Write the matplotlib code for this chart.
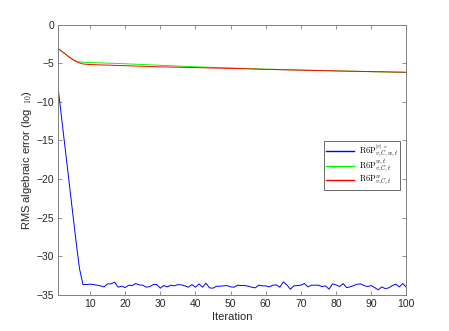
import numpy as np
import matplotlib
matplotlib.use('Agg')
import matplotlib.pyplot as plt

plt.rcParams['font.family'] = ['Liberation Sans', 'DejaVu Sans']
plt.rcParams['mathtext.fontset'] = 'cm'

iters = np.arange(1, 101)

# R6P^{|v|x}_{v,C,w,t}
blue_err = [-8.5, -12.4, -16.3, -20.2, -24.1, -28.0, -31.6, -33.70, -33.70, -33.65,
            -33.70, -33.78, -33.87, -34.00, -33.61, -33.61, -33.39, -34.04, -33.91, -34.09,
            -33.78, -33.83, -33.57, -33.74, -33.78, -34.04, -33.96, -33.70, -33.70, -34.17,
            -33.83, -34.00, -33.78, -33.87, -33.70, -33.74, -33.87, -34.04, -33.70, -34.04,
            -33.61, -34.04, -33.52, -34.13, -34.17, -33.91, -33.91, -33.87, -33.83, -34.00,
            -34.04, -33.78, -33.83, -33.83, -33.91, -34.04, -34.13, -33.78, -33.87, -33.87,
            -34.00, -33.78, -33.74, -34.04, -33.35, -33.74, -34.30, -33.87, -33.83, -33.78,
            -33.57, -34.00, -33.78, -33.78, -33.78, -33.96, -33.87, -34.30, -33.61, -33.74,
            -33.96, -33.57, -34.09, -34.00, -33.83, -33.65, -33.61, -33.83, -33.96, -33.83,
            -34.09, -34.39, -34.00, -34.22, -34.13, -33.83, -33.65, -34.00, -33.57, -34.04]

# R6P^{w,t}_{v,C,t}
green_err = [-3.10, -3.45, -3.80, -4.15, -4.45, -4.68, -4.80, -4.85, -4.88, -4.90,
             -4.91, -4.93, -4.94, -4.96, -4.97, -4.99, -5.00, -5.02, -5.03, -5.05,
             -5.07, -5.09, -5.11, -5.13, -5.15, -5.17, -5.19, -5.21, -5.23, -5.25,
             -5.27, -5.29, -5.31, -5.33, -5.35, -5.37, -5.39, -5.41, -5.43, -5.45,
             -5.46, -5.48, -5.49, -5.51, -5.52, -5.54, -5.55, -5.57, -5.58, -5.60,
             -5.61, -5.63, -5.64, -5.66, -5.67, -5.69, -5.70, -5.72, -5.73, -5.75,
             -5.76, -5.77, -5.78, -5.80, -5.81, -5.82, -5.83, -5.84, -5.86, -5.87,
             -5.88, -5.89, -5.90, -5.91, -5.92, -5.94, -5.95, -5.96, -5.97, -5.98,
             -5.99, -6.00, -6.01, -6.02, -6.03, -6.04, -6.05, -6.06, -6.07, -6.08,
             -6.09, -6.10, -6.11, -6.12, -6.13, -6.14, -6.15, -6.16, -6.17, -6.18]

# R6P^{w}_{v,C,t}
red_err = [-3.10, -3.45, -3.80, -4.15, -4.50, -4.75, -4.95, -5.08, -5.12, -5.15,
           -5.17, -5.18, -5.20, -5.21, -5.23, -5.24, -5.26, -5.27, -5.29, -5.30,
           -5.32, -5.33, -5.35, -5.36, -5.38, -5.39, -5.41, -5.42, -5.44, -5.45,
           -5.46, -5.47, -5.48, -5.49, -5.50, -5.51, -5.52, -5.53, -5.54, -5.55,
           -5.56, -5.57, -5.58, -5.59, -5.60, -5.61, -5.62, -5.63, -5.64, -5.65,
           -5.66, -5.68, -5.69, -5.70, -5.71, -5.73, -5.74, -5.75, -5.77, -5.78,
           -5.79, -5.80, -5.81, -5.82, -5.83, -5.84, -5.85, -5.86, -5.87, -5.88,
           -5.89, -5.90, -5.91, -5.92, -5.93, -5.94, -5.95, -5.96, -5.97, -5.98,
           -5.99, -6.00, -6.01, -6.02, -6.02, -6.03, -6.04, -6.05, -6.06, -6.07,
           -6.08, -6.09, -6.09, -6.10, -6.11, -6.12, -6.13, -6.13, -6.14, -6.15]

labels = [r'$\mathrm{R6P}^{|v|\times}_{v,C,w,t}$',
          r'$\mathrm{R6P}^{w,t}_{v,C,t}$',
          r'$\mathrm{R6P}^{w}_{v,C,t}$']

xticks = np.arange(10, 101, 10)
yticks = np.arange(-35, 1, 5)

fig = plt.figure(figsize=(4.49, 3.31), dpi=100)
ax = fig.add_axes([0.13, 0.11, 0.775, 0.815])

ax.plot(iters, blue_err, color=(0, 0, 1), lw=0.7, label=labels[0])
ax.plot(iters, green_err, color=(0, 1, 0), lw=0.7, label=labels[1])
ax.plot(iters, red_err, color=(1, 0, 0), lw=0.7, label=labels[2])

ax.set_xlim(1, 100)
ax.set_ylim(-35, 0)
ax.set_xticks(xticks)
ax.set_yticks(yticks)

axcol = '#262626'
for s in ax.spines.values():
    s.set_color('#808080')
    s.set_linewidth(0.7)
ax.tick_params(direction='in', top=True, right=True, length=3, width=0.6,
               color='#808080', labelsize=7.5, labelcolor=axcol, pad=3)

ax.set_xlabel('Iteration', fontsize=8, color=axcol, labelpad=2)
ax.set_ylabel(r'RMS algebraic error (log$_{\ \ 10}$)', fontsize=8, color=axcol, labelpad=2)

leg = ax.legend(loc='upper right', bbox_to_anchor=(0.983, 0.571), borderaxespad=0,
                fontsize=6.0, frameon=True, fancybox=False, edgecolor='#262626',
                handlelength=3.4, handletextpad=0.6, borderpad=0.2,
                labelspacing=-0.15)
leg.get_frame().set_linewidth(0.6)
for h in leg.get_lines():
    h.set_linewidth(1.0)

fig.savefig('out.png', dpi=100)
